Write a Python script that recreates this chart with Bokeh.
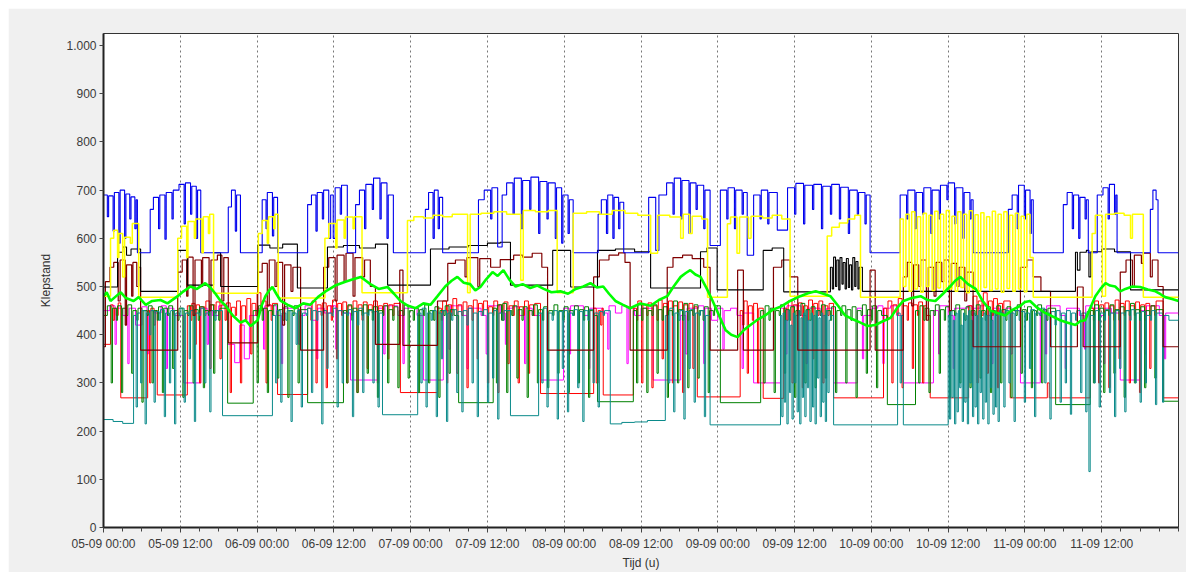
from bokeh.plotting import figure
from bokeh.models import FixedTicker
from bokeh.embed import file_html
from bokeh.resources import INLINE

# ---------------- data (hours since 05-09 00:00, Klepstand) ----------------
TICK_HOURS = [0, 12, 24, 36, 48, 60, 72, 84, 96, 108, 120, 132, 144, 156]
TICK_LABELS = ["05-09 00:00", "05-09 12:00", "06-09 00:00", "06-09 12:00",
               "07-09 00:00", "07-09 12:00", "08-09 00:00", "08-09 12:00",
               "09-09 00:00", "09-09 12:00", "10-09 00:00", "10-09 12:00",
               "11-09 00:00", "11-09 12:00"]
Y_TICKS = [0, 100, 200, 300, 400, 500, 600, 700, 800, 900, 1000]
Y_LABELS = ["0", "100", "200", "300", "400", "500", "600", "700", "800", "900", "1.000"]

BLUE = [(0.0,690),(0.6,645),(0.8,688),(1.5,615),(1.7,695),(2.4,590),(2.6,700),(3.3,600),(3.5,692),(4.1,640),(4.3,686),(4.9,620),(5.1,680),(5.3,570),
        (7.3,660),(7.8,685),(8.6,620),(8.8,690),(9.6,598),(9.8,695),(10.7,640),(10.9,700),(11.8,712),(12.6,630),(12.8,715),(13.6,650),(13.8,708),(14.5,600),(14.7,700),(15.2,570),
        (19.5,665),(20.0,700),(20.6,615),(20.8,690),(21.4,570),
        (24.8,680),(25.4,620),(25.6,695),(26.4,605),(26.6,685),(27.2,570),
        (31.9,670),(32.5,690),(33.2,615),(33.4,695),(34.2,640),(34.4,700),(35.2,600),(35.5,690),(35.9,600),(36.2,705),(37.0,650),(37.2,710),(38.1,570),
        (39.4,670),(40.0,700),(40.8,620),(41.0,712),(42.0,660),(42.2,725),(43.2,640),(43.4,715),(44.3,600),(44.5,690),(45.3,570),
        (50.3,660),(50.8,695),(51.5,600),(51.7,700),(52.3,620),(52.5,685),(53.0,570),
        (58.6,680),(59.5,700),(60.5,640),(60.7,705),(61.6,582),(62.3,690),(63.0,715),(64.0,650),(64.2,725),(65.3,620),(65.5,720),(66.6,660),(66.8,727),(68.0,610),(68.2,718),(69.3,640),(69.5,715),(70.6,600),(70.8,705),(71.6,590),(71.8,690),(72.6,610),(72.8,680),(73.4,570),
        (77.3,650),(77.8,680),(78.6,610),(78.8,690),(79.6,600),(79.8,685),(80.5,620),(80.7,675),(81.3,570),
        (85.2,685),(86.3,575),(86.8,690),(88.0,715),(89.0,650),(89.2,725),(90.2,640),(90.4,720),(91.5,610),(91.7,715),(92.6,660),(92.8,710),(93.8,620),(94.0,700),(94.8,585),
        (96.4,700),(97.4,640),(97.6,705),(98.6,620),(98.8,700),(99.8,650),(100.0,695),(100.6,565),(101.6,690),(102.6,640),(102.8,700),(103.8,630),(104.0,695),(105.3,617),
        (106.9,705),(108.0,650),(108.2,714),(109.4,630),(109.6,710),(110.8,660),(111.0,712),(112.2,620),(112.4,708),(113.6,650),(113.8,712),(115.0,640),(115.2,706),(116.4,610),(116.6,700),(117.8,650),(118.0,695),(119.0,630),(119.2,690),(119.8,570),
        (124.5,690),(125.5,640),(125.7,700),(126.8,620),(127.0,695),(128.0,650),(128.2,705),(129.3,610),(129.5,700),(130.6,640),(130.8,710),(131.8,680),(132.0,715),(133.0,630),(133.2,705),(134.3,600),(134.5,695),(135.4,640),(135.6,680),(135.9,570),
        (141.4,660),(142.0,690),(142.8,620),(143.0,710),(143.9,640),(144.1,700),(144.8,610),(145.0,680),(145.3,570),
        (150.0,670),(150.6,695),(151.4,620),(151.6,690),(152.4,600),(152.6,685),(153.4,640),(153.6,680),(153.9,570),
        (155.3,690),(156.2,705),(157.0,640),(157.2,712),(158.0,650),(158.2,690),(158.4,570),
        (163.6,660),(164.0,700),(164.5,680),(164.8,570),(168.0,570)]

YELLOW = [(0.0,480),(1.1,600),(1.6,617),(2.2,560),(2.4,610),(3.0,520),(3.3,602),(4.2,590),(4.5,631),(5.5,478),
          (11.6,600),(12.2,625),(13.0,560),(13.2,635),(14.2,600),(14.4,640),(15.4,570),(15.6,645),(16.4,610),(16.6,650),(17.2,486),
          (24.2,610),(24.8,637),(25.6,590),(25.8,645),(26.6,620),(26.8,650),(27.3,476),
          (34.6,600),(35.2,631),(36.3,580),(36.5,638),(37.6,600),(37.8,644),(39.0,620),(39.2,645),(40.4,487),
          (47.5,637),(48.5,645),(50.0,642),(51.5,648),(53.0,645),(54.5,650),(56.9,487),(57.3,650),(59.0,652),(61.0,655),(63.0,650),(65.2,513),(65.6,658),(67.5,655),(69.5,658),(70.9,487),
          (73.4,652),(75.5,655),(77.5,650),(79.5,658),(81.5,652),(83.5,648),(85.5,569),(86.6,648),(88.5,644),(90.2,600),(90.6,650),(91.6,610),(92.0,646),(93.5,640),(94.4,478),
          (97.5,630),(98.0,644),(99.0,569),(99.4,644),(100.8,600),(101.2,646),(103.0,642),(104.5,648),(106.0,640),(107.3,480),
          (113.1,605),(113.8,623),(115.0,632),(116.3,640),(117.4,648),(118.3,478),
          (124.5,640),(125.0,500),(125.4,650),(125.9,490),(126.3,655),(126.8,495),(127.2,645),(127.7,488),(128.1,652),(128.6,500),(129.0,648),(129.5,492),(129.9,656),(130.4,497),(130.8,650),(131.3,489),(131.7,658),(132.2,495),(132.6,646),(133.1,490),(133.5,655),(134.0,498),(134.4,650),(134.9,487),(135.3,657),(135.8,494),(136.2,649),(136.7,490),(137.1,653),(137.6,498),(138.0,645),(138.5,492),(138.9,656),(139.4,495),(139.8,650),(140.3,488),(140.7,655),(141.2,496),(141.6,648),(142.1,490),(142.5,652),(143.0,495),(143.4,646),(143.9,489),(144.3,650),(144.8,560),(145.3,478),
          (154.5,610),(155.0,648),(156.1,480),(156.6,650),(158.0,652),(159.5,648),(160.5,600),(160.8,650),(162.5,478),(168.0,478)]

BLACK = [(0.0,499),(2.2,571),(3.0,582),(3.6,565),(4.3,578),(5.8,490),(11.6,575),(13.1,503),(17.2,570),(18.3,500),
         (24.1,586),(26.0,580),(28.0,588),(30.3,497),(35.0,582),(37.5,585),(40.0,580),(42.5,588),(44.4,503),
         (51.1,578),(54.0,582),(57.0,585),(60.0,590),(62.0,592),(63.6,503),(70.2,575),(73.0,499),(77.2,575),(80.0,578),(83.0,572),(85.5,497),
         (93.3,572),(94.3,580),(95.9,493),(103.1,575),(104.5,580),(106.3,489),
         (113.6,540),(113.9,495),(114.1,561),(114.4,500),(114.6,555),(114.9,493),(115.1,560),(115.4,505),(115.6,550),(115.9,495),(116.1,558),(116.4,498),(116.6,545),(116.9,493),(117.1,560),(117.4,500),(117.6,552),(117.9,495),(118.1,540),(118.6,490),
         (151.9,571),(152.2,534),(152.6,571),(153.6,575),(154.0,520),(154.3,572),(156.0,578),(158.0,572),(160.5,493),(168.0,493)]

MAROON = [(0.0,375),(0.3,510),(1.0,540),(1.6,550),(2.3,470),(2.6,555),(3.4,420),(3.6,545),(4.4,480),(4.6,550),(5.2,500),(5.5,540),(5.8,368),
          (11.6,530),(12.3,555),(13.0,480),(13.2,561),(14.0,440),(14.3,555),(15.3,500),(15.5,560),(16.5,450),(16.8,555),(17.8,565),(18.5,470),(18.8,560),(19.5,383),
          (24.1,530),(24.8,548),(25.6,460),(25.9,555),(26.8,500),(27.1,550),(28.0,420),(28.3,545),(29.3,490),(29.6,540),(30.8,368),
          (34.4,540),(35.2,560),(36.2,470),(36.5,565),(37.6,510),(37.9,569),(39.0,480),(39.3,560),(40.5,520),(40.8,555),(41.7,500),(42.5,380),(46.3,534),(46.8,378),
          (52.2,470),(53.8,548),(55.0,555),(56.5,520),(56.8,560),(58.5,500),(58.8,558),(60.5,540),(62.0,556),(64.1,565),(65.5,561),(67.0,569),(68.5,540),(69.4,368),
          (76.6,520),(77.5,555),(79.0,565),(80.5,570),(81.5,550),(82.3,368),(88.1,540),(89.0,560),(90.5,565),(92.0,558),(93.8,540),(94.8,368),
          (99.1,534),(100.0,368),(104.7,540),(106.0,555),(107.3,520),(108.5,368),(119.8,534),(120.6,368),
          (125.0,520),(125.6,550),(126.3,460),(126.6,545),(127.4,500),(127.7,555),(128.6,430),(128.9,540),(129.8,480),(130.1,550),(131.0,510),(131.3,555),(132.2,450),(132.5,548),(133.4,500),(133.7,540),(134.6,470),(134.9,530),(135.9,375),
          (143.3,540),(144.3,555),(145.3,520),(146.5,490),(148.0,375),(152.2,499),(153.1,375),
          (158.9,530),(159.8,555),(160.8,500),(161.1,565),(162.2,548),(162.5,569),(163.6,520),(163.9,555),(164.8,500),(165.6,375),(168.0,375)]

LIME = [(0.0,480),(0.5,488),(1.1,470),(1.8,478),(2.7,488),(3.5,476),(4.7,470),(5.5,478),(6.6,462),(7.6,470),(8.9,472),(10.0,465),(11.6,480),(12.5,490),
        (13.6,500),(14.6,495),(15.9,507),(16.7,498),(17.5,485),(18.3,470),(19.1,460),(20.2,440),(21.4,425),(22.2,430),(23.0,418),(23.6,425),(24.1,430),
        (24.7,460),(25.3,480),(25.9,492),(26.4,499),(27.0,485),(27.7,470),(28.8,462),(30.0,455),(31.2,465),(32.3,462),(33.5,478),(34.7,490),(36.2,502),
        (37.8,510),(39.0,515),(40.2,520),(41.0,512),(41.7,505),(43.0,495),(44.4,499),(45.4,485),(46.4,470),(47.6,460),(48.8,455),(50.0,465),(51.1,462),
        (52.2,480),(53.4,500),(54.4,512),(55.3,520),(56.3,508),(57.3,505),(58.1,492),(58.9,499),(59.8,515),(60.8,530),(61.6,522),(62.5,534),(63.4,515),
        (64.4,500),(65.5,505),(66.7,497),(67.8,502),(68.8,495),(70.0,488),(71.4,490),(72.6,485),(73.8,495),(75.0,500),(76.1,507),(77.1,498),(78.1,500),
        (79.0,485),(80.0,470),(81.2,462),(82.3,455),(83.9,465),(85.5,460),(86.8,472),(88.1,480),(89.1,500),(90.2,520),(91.0,528),(91.7,534),(92.5,525),
        (93.3,520),(94.3,495),(95.2,470),(96.2,440),(97.2,410),(98.1,400),(99.1,395),(100.1,410),(101.1,420),(102.3,432),(103.4,440),(104.6,452),(105.8,458),
        (107.3,470),(108.9,480),(110.1,486),(111.3,490),(112.5,485),(113.6,480),(114.8,460),(115.9,440),(117.1,432),(118.3,425),(119.4,418),(120.6,420),
        (121.8,428),(123.0,435),(124.0,455),(125.0,470),(126.3,476),(127.7,480),(128.8,472),(130.0,470),(131.2,485),(132.3,500),(133.1,512),(133.9,520),
        (135.1,505),(136.3,495),(137.4,470),(138.6,450),(139.7,445),(140.9,440),(142.1,452),(143.3,460),(144.0,468),(144.8,470),(146.0,455),(147.2,445),
        (148.3,438),(149.5,430),(150.7,425),(151.9,420),(152.6,428),(153.4,430),(154.2,455),(155.0,480),(155.8,495),(156.6,507),(157.3,502),(158.1,500),
        (158.9,490),(159.7,495),(160.8,500),(162.0,499),(163.2,494),(164.4,490),(165.2,484),(165.9,478),(167.0,474),(168.0,470)]

RED = [(0.0,380),(1.1,462),(1.5,430),(1.7,455),(2.0,440),(2.3,466),(2.7,269),
       (6.9,450),(7.2,300),(7.4,455),(7.9,420),(8.1,450),(8.4,275),
       (13.1,460),(13.6,430),(13.8,465),(14.3,380),(14.5,462),(15.0,300),(15.2,458),(15.8,440),(16.0,470),(16.6,330),(16.8,462),(17.4,445),(17.6,468),(18.2,350),(18.4,462),(19.0,430),(19.2,466),(19.8,280),(20.0,457),(20.6,440),(20.8,470),(21.4,300),(21.6,460),(22.2,430),(22.4,475),(23.0,360),(23.2,465),(23.8,440),(24.0,487),(24.6,450),(24.8,470),(25.4,300),(25.6,462),(26.2,430),(26.4,465),(27.2,276),
       (31.9,455),(32.4,430),(32.6,470),(33.2,300),(33.4,462),(34.0,440),(34.2,466),(34.8,290),(35.0,460),(35.6,430),(35.8,472),(36.4,350),(36.6,465),(37.2,440),(37.4,468),(38.0,300),(38.2,460),(38.8,440),(39.0,470),(39.6,280),(39.8,462),(40.4,430),(40.6,468),(41.2,330),(41.4,462),(42.0,445),(42.2,470),(42.8,300),(43.0,460),(43.6,440),(43.8,465),(44.4,350),(44.6,462),(45.2,440),(45.4,465),(46.4,280),
       (52.2,455),(52.8,430),(53.0,470),(53.6,300),(53.8,462),(54.4,440),(54.6,475),(55.2,320),(55.4,462),(56.0,440),(56.2,468),(56.8,290),(57.0,460),(57.6,430),(57.8,472),(58.4,350),(58.6,465),(59.2,440),(59.4,470),(60.0,300),(60.2,458),(60.8,440),(61.0,470),(61.6,280),(61.8,462),(62.4,430),(62.6,468),(63.2,340),(63.4,460),(64.0,440),(64.2,470),(64.8,300),(65.0,458),(65.6,440),(65.8,470),(66.4,320),(66.6,462),(67.2,440),(67.4,465),(68.3,278),
       (76.6,455),(77.0,300),(77.3,450),(77.7,420),(77.9,455),(78.1,275),
       (82.8,455),(83.3,430),(83.5,470),(84.1,300),(84.3,462),(84.9,440),(85.1,466),(85.7,290),(85.9,460),(86.5,430),(86.7,472),(87.3,350),(87.5,465),(88.1,440),(88.3,470),(88.9,300),(89.1,460),(89.7,440),(89.9,468),(90.5,280),(90.7,462),(91.3,430),(91.5,465),(92.1,330),(92.3,458),(92.8,271),
       (99.5,450),(99.9,420),(100.1,470),(100.6,320),(100.8,460),(101.4,430),(101.6,465),(102.2,300),(102.4,455),(103.1,268),
       (106.3,455),(106.8,430),(107.0,470),(107.6,300),(107.8,462),(108.4,440),(108.6,466),(109.2,290),(109.4,460),(110.0,430),(110.2,472),(110.8,350),(111.0,465),(111.6,440),(111.8,470),(112.4,300),(112.6,460),(113.2,440),(113.4,465),(114.1,269),
       (121.9,455),(122.4,430),(122.6,470),(123.2,300),(123.4,462),(124.0,440),(124.2,475),(124.8,290),(125.0,460),(125.6,430),(125.8,466),(126.4,330),(126.6,462),(127.2,440),(127.4,468),(128.0,300),(128.2,460),(128.6,440),(129.2,269),
       (135.2,460),(135.7,440),(135.9,480),(136.5,300),(136.7,470),(137.3,440),(137.5,487),(138.1,320),(138.3,470),(138.9,440),(139.1,475),(139.7,290),(139.9,465),(140.5,440),(140.7,470),(141.7,269),
       (147.5,300),(147.8,269),
       (154.2,455),(154.7,430),(154.9,470),(155.5,300),(155.7,462),(156.3,440),(156.5,466),(157.1,290),(157.3,460),(157.9,430),(158.1,472),(158.7,350),(158.9,465),(159.5,440),(159.7,470),(160.3,300),(160.5,460),(161.1,440),(161.3,468),(161.9,280),(162.1,462),(162.7,430),(162.9,465),(163.5,330),(163.7,460),(164.3,440),(164.5,470),(165.6,269),(168.0,269)]

MAGENTA = [(0.0,450),(1.0,460),(1.8,380),(2.0,455),(3.0,440),(3.8,340),(4.0,455),(5.0,420),(6.0,458),(6.8,360),(7.0,450),(8.0,445),(9.0,460),(9.8,330),(10.0,455),(11.0,440),(12.5,300),
           (15.2,455),(16.2,380),(16.4,450),(17.0,440),(18.0,460),(19.4,380),(20.5,342),(21.3,420),(22.0,350),(22.8,440),(24.0,455),(25.0,370),(25.2,460),(26.0,460),(27.0,440),(27.8,340),(28.0,455),
           (29.5,455),(30.5,380),(30.7,440),(31.5,460),(32.5,430),(33.3,350),(33.5,455),(34.5,445),(35.5,460),(36.3,370),(36.5,450),(37.5,445),(38.6,306),
           (42.8,455),(43.8,360),(44.0,460),(45.0,460),(46.0,440),(46.8,340),(47.0,455),(48.0,455),(49.0,440),(50.0,306),
           (53.1,450),(54.0,370),(54.2,460),(55.0,460),(56.0,440),(56.8,330),(57.0,455),(58.0,455),(59.0,440),(59.8,360),(60.0,460),(61.0,460),(62.0,445),(62.8,380),(63.0,455),(64.0,458),(65.0,440),(65.8,340),(66.0,455),(67.0,440),(68.3,306),
           (71.9,455),(72.8,360),(73.0,460),(74.0,460),(75.0,440),(75.8,330),(76.0,455),(77.0,455),(78.0,445),(78.8,370),(79.0,460),(80.0,445),(81.0,460),(81.8,340),(82.0,455),(83.0,440),(84.0,455),(85.9,306),
           (90.2,440),(91.0,360),(91.2,455),(92.0,455),(93.0,460),(93.8,340),(94.0,455),(95.0,430),(96.0,455),(96.8,370),(97.0,450),(98.0,455),(99.0,440),(99.8,330),(100.0,445),(101.6,300),
           (105.8,455),(106.6,360),(106.8,460),(108.0,460),(109.0,440),(109.8,340),(110.0,455),(111.0,455),(112.0,440),(112.8,380),(113.0,455),(114.1,300),
           (117.8,455),(118.6,350),(118.8,440),(120.0,455),(121.0,460),(121.8,340),(122.0,455),(123.0,460),(124.0,440),(125.0,300),
           (129.7,450),(130.5,360),(130.7,460),(132.0,440),(132.8,330),(133.0,455),(134.0,455),(135.0,460),(135.8,370),(136.0,455),(137.0,460),(138.0,440),(138.8,340),(139.0,455),(140.0,445),(141.0,455),(141.8,360),(142.0,450),(143.3,300),
           (146.4,450),(147.2,360),(147.4,460),(148.5,460),(149.5,440),(150.3,330),(150.5,455),(151.5,455),(152.5,440),(153.3,370),(153.5,460),(154.5,455),(155.5,440),(156.3,340),(156.5,455),(157.5,445),(158.9,306),
           (162.0,450),(162.8,360),(163.0,460),(164.0,460),(165.0,440),(165.8,350),(166.0,445),(168.0,445)]

GREEN = [(0.0,440),(0.6,460),(1.2,300),(1.4,455),(2.0,430),(2.2,460),(2.8,280),(3.0,455),(3.6,440),(3.8,462),(4.4,320),(4.6,450),(5.2,430),(5.4,455),(6.0,260),(6.2,450),(6.8,440),(7.0,460),(7.6,300),(7.8,450),(8.4,430),(8.6,458),(9.2,280),(9.4,455),(10.0,440),(10.2,460),(10.8,330),(11.0,450),(11.6,430),(11.8,455),(12.4,270),(12.6,450),(13.2,440),(13.4,460),(14.0,300),(14.2,452),(14.8,430),(15.0,458),(15.6,290),(15.8,450),(16.4,440),(16.6,462),(17.2,320),(17.4,450),(18.0,430),(18.2,455),(19.4,258),
         (23.4,450),(24.0,300),(24.2,460),(24.8,430),(25.0,455),(25.6,280),(25.8,450),(26.4,440),(26.6,462),(27.2,310),(27.4,452),(28.0,430),(28.2,458),(28.8,270),(29.0,450),(29.6,440),(29.8,460),(30.4,300),(30.6,452),(31.9,259),
         (37.5,450),(38.0,300),(38.2,462),(38.8,430),(39.0,455),(39.6,280),(39.8,450),(40.4,440),(40.6,462),(41.2,320),(41.4,452),(42.0,430),(42.2,458),(42.8,270),(43.0,450),(43.6,440),(43.8,460),(44.4,300),(44.6,452),(45.2,430),(45.4,458),(46.0,290),(46.2,450),(46.8,440),(47.0,462),(47.6,310),(47.8,450),(48.4,430),(48.6,455),(49.2,280),(49.4,452),(50.0,440),(50.2,462),(50.8,300),(51.0,450),(51.6,430),(51.8,458),(52.4,270),(52.6,450),(53.2,440),(53.4,460),(54.0,320),(54.2,452),(54.8,440),(55.5,259),
         (60.9,455),(61.4,300),(61.6,462),(62.2,430),(62.4,465),(63.0,280),(63.2,450),(63.8,440),(64.0,460),(64.6,310),(64.8,452),(65.4,430),(65.6,458),(66.2,270),(66.4,450),(67.0,440),(67.2,462),(67.8,300),(68.0,452),(68.6,430),(68.8,458),(69.4,290),(69.6,450),(70.2,440),(70.4,462),(71.0,320),(71.2,450),(71.8,430),(72.0,458),(72.6,280),(72.8,450),(73.4,440),(73.6,460),(74.2,300),(74.4,452),(75.0,430),(75.2,458),(75.8,270),(76.0,450),(76.6,440),(77.2,261),
         (82.8,450),(83.3,300),(83.5,462),(84.1,430),(84.3,455),(84.9,280),(85.1,450),(85.7,440),(85.9,462),(86.5,320),(86.7,452),(87.3,430),(87.5,458),(88.1,270),(88.3,450),(88.9,440),(89.1,470),(89.7,300),(89.9,452),(90.5,430),(90.7,465),(91.3,290),(91.5,450),(92.1,440),(92.3,462),(92.9,310),(93.1,450),(93.7,430),(93.9,458),(94.5,280),(94.7,450),(95.3,440),(95.5,460),(96.4,259),
         (102.7,450),(103.2,300),(103.4,460),(104.0,430),(104.2,455),(104.8,280),(105.0,450),(105.6,440),(105.8,462),(106.4,320),(106.6,452),(107.2,430),(107.4,458),(108.0,270),(108.2,450),(108.8,440),(109.0,465),(109.6,300),(109.8,452),(110.4,430),(110.6,458),(111.2,290),(111.4,450),(112.0,440),(112.2,462),(112.8,310),(113.0,450),(113.6,430),(113.8,458),(114.4,280),(114.6,450),(115.2,440),(115.4,460),(116.0,300),(116.2,452),(116.8,430),(117.0,458),(117.6,270),(117.8,450),(118.4,440),(118.6,462),(119.2,320),(119.4,452),(120.0,430),(120.2,460),(120.8,290),(121.0,450),(121.6,440),(122.5,255),
         (126.9,450),(127.4,300),(127.6,460),(128.2,430),(128.4,455),(129.0,280),(129.2,450),(129.8,440),(130.0,462),(130.6,320),(130.8,452),(131.4,430),(131.6,458),(132.2,270),(132.4,450),(133.0,440),(133.2,462),(133.8,300),(134.0,452),(134.6,430),(134.8,458),(135.4,290),(135.6,450),(136.2,440),(136.4,462),(137.0,310),(137.2,450),(137.8,430),(138.0,458),(138.6,280),(138.8,450),(139.4,440),(139.6,460),(140.2,300),(140.4,452),(141.0,430),(141.2,458),(141.8,270),(142.0,450),(142.6,440),(142.8,462),(143.4,320),(143.6,452),(144.2,430),(144.4,458),(145.0,290),(145.2,450),(145.8,440),(146.0,462),(146.6,300),(146.8,452),(147.4,430),(147.6,455),(148.8,255),
         (154.2,450),(154.7,300),(154.9,462),(155.5,430),(155.7,455),(156.3,280),(156.5,450),(157.1,440),(157.3,462),(157.9,320),(158.1,452),(158.7,430),(158.9,458),(159.5,270),(159.7,450),(160.3,440),(160.5,465),(161.1,300),(161.3,452),(161.9,430),(162.1,458),(162.7,290),(162.9,450),(163.5,440),(163.7,460),(164.3,310),(164.5,452),(165.6,262),(168.0,262)]

TEAL = [(0.0,224),(1.5,220),(3.0,216),(4.7,440),(5.1,250),(5.3,445),(5.8,300),(6.0,450),(6.5,215),(6.7,445),(7.2,400),(7.4,450),(7.9,260),(8.1,448),(8.7,430),(8.9,452),(9.5,230),(9.7,445),(10.3,300),(10.5,450),(11.1,215),(11.3,445),(11.9,440),(12.1,455),(12.6,260),(12.8,445),(13.4,350),(13.6,450),(14.2,220),(14.4,445),(15.0,440),(15.2,455),(15.8,300),(16.0,445),(16.6,240),(16.8,450),(17.4,430),(17.6,450),(18.6,232),
        (26.4,440),(26.9,300),(27.1,450),(27.7,260),(27.9,445),(28.5,430),(28.7,450),(29.3,220),(29.5,445),(30.1,380),(30.3,450),(30.9,250),(31.1,445),(31.7,440),(31.9,455),(32.5,280),(32.7,450),(33.3,430),(33.5,448),(34.1,215),(34.3,450),(34.9,330),(35.1,445),(35.7,440),(35.9,455),(36.5,250),(36.7,450),(37.3,300),(37.5,445),(38.1,440),(38.3,452),(38.9,230),(39.1,448),(39.7,420),(39.9,455),(40.5,280),(40.7,445),(41.3,440),(41.5,450),(42.1,300),(42.3,448),(42.9,250),(43.1,445),(43.6,234),
        (49.1,445),(49.6,300),(49.8,455),(50.4,250),(50.6,445),(51.2,430),(51.4,450),(52.0,230),(52.2,445),(52.8,350),(53.0,450),(53.6,220),(53.8,445),(54.4,430),(54.6,452),(55.2,280),(55.4,448),(56.0,240),(56.2,450),(56.8,420),(57.0,455),(57.6,300),(57.8,445),(58.4,230),(58.6,448),(59.2,440),(59.4,452),(60.0,260),(60.2,445),(60.8,310),(61.0,450),(61.6,225),(61.8,445),(62.4,430),(62.6,450),(63.6,232),
        (68.0,445),(68.5,300),(68.7,455),(69.3,250),(69.5,445),(70.1,430),(70.3,450),(70.9,225),(71.1,448),(71.7,330),(71.9,450),(72.5,240),(72.7,445),(73.3,440),(73.5,452),(74.1,290),(74.3,448),(74.9,220),(75.1,450),(75.7,430),(75.9,452),(76.5,300),(76.7,445),(77.3,250),(77.5,448),(78.1,440),(78.3,450),(79.2,215),(81.0,218),(83.0,219),(85.0,222),
        (87.8,440),(88.3,300),(88.5,455),(89.1,240),(89.3,445),(89.9,430),(90.1,450),(90.7,225),(90.9,448),(91.5,330),(91.7,452),(92.3,260),(92.5,445),(93.1,440),(93.3,450),(93.9,230),(94.1,440),(94.8,213),
        (105.8,440),(106.0,230),(106.2,445),(106.4,260),(106.6,430),(106.8,215),(107.0,450),(107.2,280),(107.4,420),(107.6,225),(107.8,445),(108.0,300),(108.2,440),(108.4,240),(108.6,450),(108.8,215),(109.0,435),(109.2,270),(109.4,445),(109.6,230),(109.8,450),(110.0,290),(110.2,430),(110.4,220),(110.6,445),(110.8,250),(111.0,440),(111.2,215),(111.4,450),(111.6,310),(111.8,435),(112.0,230),(112.2,445),(112.4,260),(112.6,440),(112.8,220),(113.0,450),(113.2,280),(113.4,430),(113.6,440),(114.1,213),
        (124.1,445),(124.5,300),(124.7,440),(125.0,213),
        (132.0,440),(132.2,225),(132.4,450),(132.6,270),(132.8,430),(133.0,215),(133.2,445),(133.4,240),(133.6,450),(133.8,290),(134.0,420),(134.2,220),(134.4,445),(134.6,260),(134.8,440),(135.0,215),(135.2,450),(135.4,300),(135.6,430),(135.8,230),(136.0,445),(136.2,250),(136.4,440),(136.6,215),(136.8,450),(137.0,280),(137.2,435),(137.4,225),(137.6,445),(137.8,260),(138.0,440),(138.2,215),(138.4,450),(138.6,290),(138.8,430),(139.0,235),(139.2,445),(139.4,250),(139.6,440),(139.8,220),(140.0,450),(140.2,445),
        (140.7,250),(140.9,450),(141.5,300),(141.7,445),(142.3,220),(142.5,450),(143.1,430),(143.3,448),(143.9,260),(144.1,445),(144.7,330),(144.9,452),(145.5,230),(145.7,445),(146.3,440),(146.5,455),(147.1,300),(147.3,445),(147.9,225),(148.1,448),(148.7,420),(148.9,450),(149.5,260),(149.7,445),(150.3,300),(150.5,450),(151.1,235),(151.3,445),(151.9,430),(152.1,450),(152.7,280),(152.9,445),(153.5,240),(153.7,448),
        (154.0,116),(154.2,440),(154.8,300),(155.0,450),(155.6,250),(155.8,445),(156.4,430),(156.6,452),(157.2,280),(157.4,445),(158.0,230),(158.2,450),(158.8,330),(159.0,445),(159.6,240),(159.8,450),(160.4,430),(160.6,452),(161.2,300),(161.4,445),(162.0,260),(162.2,448),(162.8,300),(163.0,440),(163.6,430),(163.8,450),(164.4,255),(164.6,445),(165.5,260),(165.7,440),(166.5,430),(168.0,440)]

# ---------------- figure ----------------
p = figure(width=1178, height=564, x_range=(0, 168), y_range=(0, 1025),
           output_backend="svg", toolbar_location=None,
           min_border_left=95, min_border_right=8, min_border_top=25, min_border_bottom=44,
           border_fill_color="#f0f0f0", background_fill_color="white",
           outline_line_color="#333333", outline_line_width=1)
p.margin = (8, 8, 0, 8)

def split(pairs):
    return [a for a, b in pairs], [b for a, b in pairs]

step_series = [(MAGENTA, "#ff00ff", 1.0), (RED, "#ff0000", 1.0), (GREEN, "#008000", 1.0),
               (TEAL, "#0a8a8a", 1.0), (MAROON, "#800000", 1.2), (BLACK, "#000000", 1.1),
               (BLUE, "#0000ee", 1.1), (YELLOW, "#ffff00", 1.5)]
for data, col, lw in step_series:
    xs, ys = split(data)
    p.step(xs, ys, mode="after", line_color=col, line_width=lw)

lx, ly = split(LIME)
p.line(lx, ly, line_color="#00ff00", line_width=2.6)

# axes
p.xaxis.ticker = FixedTicker(ticks=TICK_HOURS, minor_ticks=list(range(0, 169, 3)))
p.xaxis.major_label_overrides = {h: lab for h, lab in zip(TICK_HOURS, TICK_LABELS)}
p.yaxis.ticker = FixedTicker(ticks=Y_TICKS, minor_ticks=[])
p.yaxis.major_label_overrides = {v: lab for v, lab in zip(Y_TICKS, Y_LABELS)}

p.xaxis.axis_label = "Tijd (u)"
p.yaxis.axis_label = "Klepstand"
for ax in (p.xaxis, p.yaxis):
    ax.axis_line_color = "#222222"
    ax.axis_line_width = 2
    ax.major_tick_line_color = "#444444"
    ax.minor_tick_line_color = "#444444"
    ax.major_tick_in = 0
    ax.minor_tick_in = 0
    ax.major_label_text_font = "Liberation Sans"
    ax.major_label_text_font_size = "12px"
    ax.major_label_text_color = "#3a3a3a"
    ax.axis_label_text_font = "Liberation Sans"
    ax.axis_label_text_font_size = "12px"
    ax.axis_label_text_font_style = "normal"
    ax.axis_label_text_color = "#333333"
p.xaxis.major_tick_out = 5
p.xaxis.minor_tick_out = 4
p.yaxis.major_tick_out = 4
p.yaxis.minor_tick_out = 0
p.xaxis.major_label_standoff = 4
p.yaxis.major_label_standoff = 3
p.xaxis.axis_label_standoff = 2
p.yaxis.axis_label_standoff = 10

p.xgrid.grid_line_color = "#777777"
p.xgrid.grid_line_dash = "2 3"
p.xgrid.grid_line_width = 1
p.ygrid.grid_line_color = None

open("out.html", "w").write(file_html(p, INLINE))
